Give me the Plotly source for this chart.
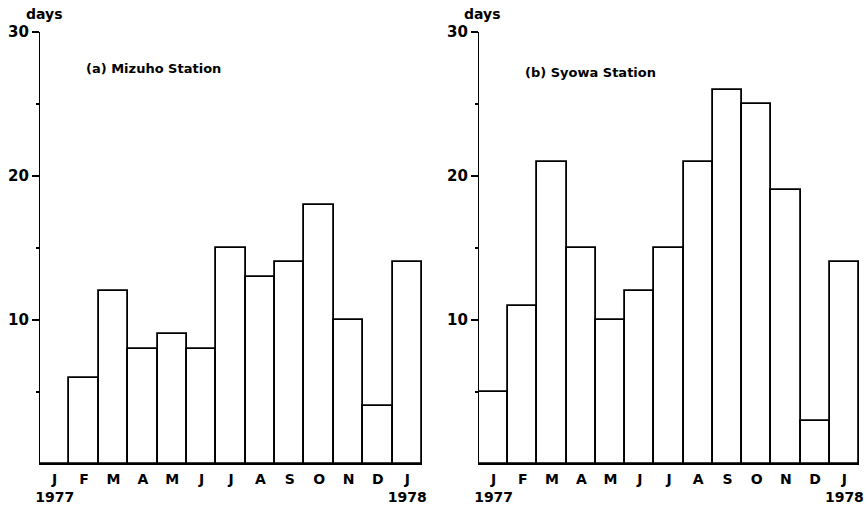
import plotly.graph_objects as go
from plotly.subplots import make_subplots

# Monthly number of days, January 1977 to January 1978
months = ["J", "F", "M", "A", "M", "J", "J", "A", "S", "O", "N", "D", "J"]
years = ["1977", "", "", "", "", "", "", "", "", "", "", "", "1978"]
mizuho_days = [0, 6, 12, 8, 9, 8, 15, 13, 14, 18, 10, 4, 14]
syowa_days = [5, 11, 21, 15, 10, 12, 15, 21, 26, 25, 19, 3, 14]

panel_titles = ["(a) Mizuho Station", "(b) Syowa Station"]

W, H = 866, 511
FONT = "DejaVu Sans"

tick_text = [f"<b>{m}</b>" + (f"<br><b>{y}</b>" if y else "<br> ") for m, y in zip(months, years)]
positions = list(range(len(months)))

fig = make_subplots(rows=1, cols=2)

for col, values in ((1, mizuho_days), (2, syowa_days)):
    fig.add_trace(
        go.Bar(
            x=positions,
            y=values,
            width=1.0,
            marker=dict(color="white", line=dict(color="black", width=1.8)),
            showlegend=False,
            hoverinfo="x+y",
        ),
        row=1,
        col=col,
    )

x_domains = [[40 / W, 422 / W], [479 / W, 859 / W]]
y_domain = [1 - 464 / H, 1 - 32 / H]

axis_font = dict(family=FONT, size=15, color="black")
month_font = dict(family=FONT, size=14, color="black")

for i, dom in enumerate(x_domains, start=1):
    fig.update_xaxes(
        domain=dom,
        range=[-0.5, len(months) - 0.5],
        tickmode="array",
        tickvals=positions,
        ticktext=tick_text,
        tickfont=month_font,
        ticks="outside",
        ticklen=2,
        tickcolor="rgba(0,0,0,0)",
        showline=True,
        linecolor="black",
        linewidth=1.2,
        showgrid=False,
        zeroline=False,
        automargin=False,
        fixedrange=True,
        row=1,
        col=i,
    )
    fig.update_yaxes(
        domain=y_domain,
        range=[0, 30],
        tickmode="array",
        tickvals=[10, 20, 30],
        ticktext=["<b>10</b>", "<b>20</b>", "<b>30</b>"],
        tickfont=axis_font,
        ticks="outside",
        ticklen=7,
        tickwidth=1.5,
        tickcolor="black",
        minor=dict(tickvals=[5, 15, 25], ticks="outside", ticklen=3, tickwidth=1.5, tickcolor="black"),
        showline=True,
        linecolor="black",
        linewidth=1.2,
        showgrid=False,
        zeroline=False,
        automargin=False,
        fixedrange=True,
        row=1,
        col=i,
    )

annotations = []
for dom, title, days_x, title_y in zip(x_domains, panel_titles, (44, 482), (69, 72)):
    annotations.append(
        dict(
            text="<b>days</b>",
            x=days_x / W,
            y=1 - 14 / H,
            xref="paper",
            yref="paper",
            xanchor="center",
            yanchor="middle",
            showarrow=False,
            font=dict(family=FONT, size=14, color="black"),
        )
    )
    annotations.append(
        dict(
            text=f"<b>{title}</b>",
            x=dom[0] + 44 / W,
            y=1 - title_y / H,
            xref="paper",
            yref="paper",
            xanchor="left",
            yanchor="middle",
            showarrow=False,
            font=dict(family=FONT, size=13, color="black"),
        )
    )

fig.update_layout(
    template="none",
    width=W,
    height=H,
    margin=dict(l=0, r=0, t=0, b=0, autoexpand=False),
    paper_bgcolor="white",
    plot_bgcolor="white",
    bargap=0,
    annotations=annotations,
    font=dict(family=FONT, color="black"),
)

fig.write_html("out.html")
